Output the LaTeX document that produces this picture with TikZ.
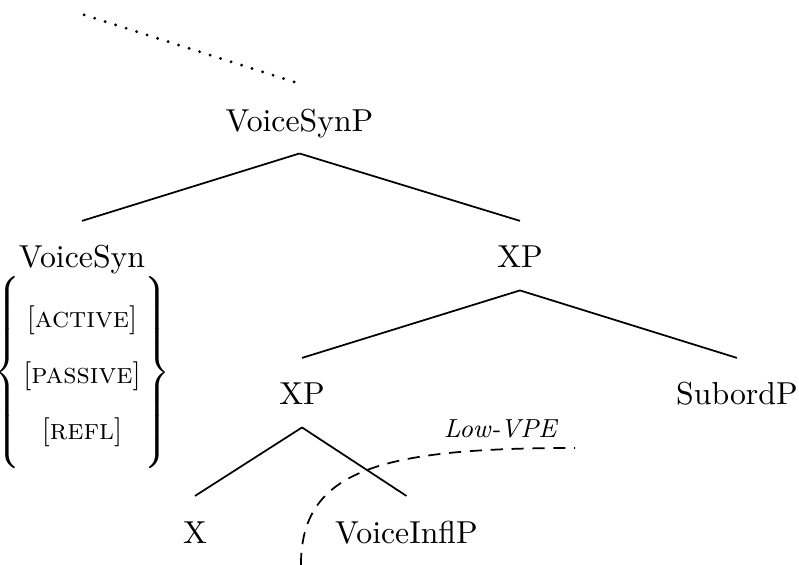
\documentclass[11pt,tikz,border=0pt]{standalone}
\usepackage{tikz}
\usetikzlibrary{positioning}

\begin{document}
\begin{tikzpicture}[scale=1,
        cat/.style={anchor=base,text height=2ex,text depth=.2ex,inner xsep=1pt,inner ysep=6.6pt},
        branch/.style={semithick}]
        \useasboundingbox (0,0) rectangle (9.685,-6.848);
        %树节点
        \node[cat] (VoiceSynP) at (3.63,-1.588) {VoiceSynP};
        \node[cat] (VoiceSyn) at (0.994,-3.248) {VoiceSyn};
        \node[cat] (XPa) at (6.303,-3.248) {XP};
        \node[cat] (XPb) at (3.661,-4.909) {XP};
        \node[cat] (SubordP) at (8.933,-4.909) {SubordP};
        \node[cat] (X) at (2.364,-6.582) {X};
        \node[cat] (VoiceInflP) at (4.927,-6.582) {VoiceInflP};
        %特征
        \node[inner sep=0pt] (feat) at (0.994,-4.515) {\small\renewcommand{\arraystretch}{1.6}\setlength{\arraycolsep}{1.2pt}\delimitershortfall=-6pt$\left\{\begin{array}{c}
            {[}\textsc{active}{]}\\ {[}\textsc{passive}{]}\\ {[}\textsc{refl}{]}\end{array}\right\}$};
        %连线
        \draw [branch] (VoiceSynP.south) -- (VoiceSyn.north);
        \draw [branch] (VoiceSynP.south) -- (XPa.north);
        \draw [branch] (XPa.south) -- (XPb.north);
        \draw [branch] (XPa.south) -- (SubordP.north);
        \draw [branch] (XPb.south) -- (X.north);
        \draw [branch] (XPb.south) -- (VoiceInflP.north);
        %上方点线
        \coordinate (up) at (1.02,-0.18);
        \coordinate (upend) at (3.65,-1.02);
        \draw [line width=1.1pt,line cap=round,dash pattern=on 0pt off 3.8pt] (up) -- (upend);
        %省略边界
        \coordinate (vpeA) at (3.648,-6.848);
        \coordinate (vpeB) at (6.970,-5.430);
        \draw [semithick,dash pattern=on 4.2pt off 3pt] (vpeA) .. controls (3.648,-5.697) and (4.606,-5.430) .. (vpeB);
        \node[anchor=base] (vpe) at (6.073,-5.309) {\footnotesize\textit{Low-VPE}};
    \end{tikzpicture}
\end{document}
